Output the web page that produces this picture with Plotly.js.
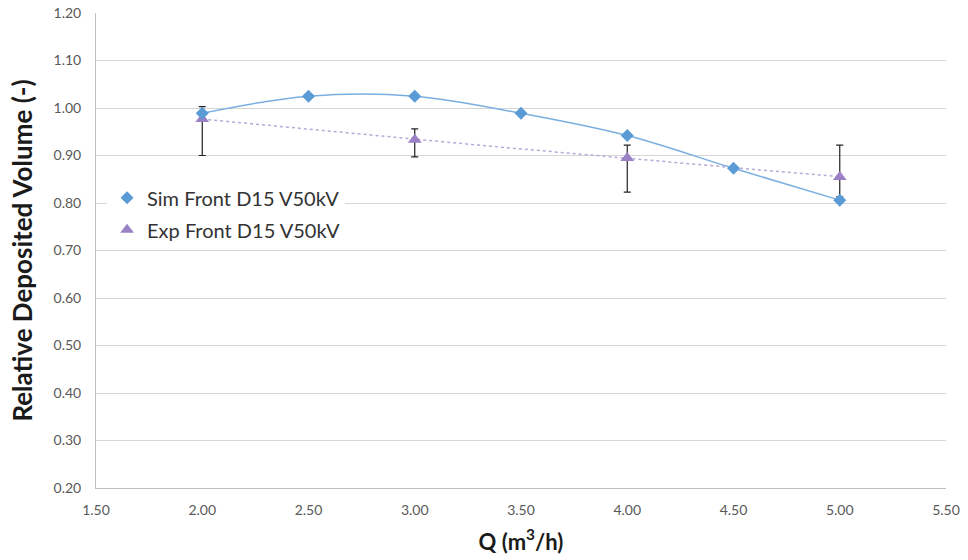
<!DOCTYPE html>
<html>
<head>
<meta charset="utf-8">
<script src="https://cdn.plot.ly/plotly-3.0.1.min.js"></script>
<style>html,body{margin:0;padding:0;background:#fff;}#chart{width:968px;height:560px;}</style>
</head>
<body>
<div id="chart"></div>
<script>
const flowQ = [2.0, 2.5, 3.0, 3.5, 4.0, 4.5, 5.0];
const simVolume = [0.989, 1.025, 1.025, 0.989, 0.942, 0.873, 0.806];

const expQ = [2.0, 3.0, 4.0, 5.0];
const expVolume = [0.977, 0.933, 0.895, 0.855];
const expErrPlus = [0.026, 0.023, 0.027, 0.067];
const expErrMinus = [0.077, 0.036, 0.072, 0.042];

const xTickVals = [1.5, 2.0, 2.5, 3.0, 3.5, 4.0, 4.5, 5.0, 5.5];
const yTickVals = [0.2, 0.3, 0.4, 0.5, 0.6, 0.7, 0.8, 0.9, 1.0, 1.1, 1.2];

const simName = 'Sim Front D15 V50kV';
const expName = 'Exp Front D15 V50kV';

// quadratic least-squares trendline for experimental data
function quadFit(xs, ys) {
  let S = [0,0,0,0,0], T = [0,0,0];
  for (let i = 0; i < xs.length; i++) {
    let p = 1;
    for (let k = 0; k < 5; k++) { S[k] += p; if (k < 3) T[k] += p * ys[i]; p *= xs[i]; }
  }
  const A = [[S[0],S[1],S[2],T[0]],[S[1],S[2],S[3],T[1]],[S[2],S[3],S[4],T[2]]];
  for (let c = 0; c < 3; c++) {
    for (let r = c + 1; r < 3; r++) {
      const f = A[r][c] / A[c][c];
      for (let k = c; k < 4; k++) A[r][k] -= f * A[c][k];
    }
  }
  const b = [0,0,0];
  for (let r = 2; r >= 0; r--) {
    let s = A[r][3];
    for (let k = r + 1; k < 3; k++) s -= A[r][k] * b[k];
    b[r] = s / A[r][r];
  }
  return x => b[0] + b[1] * x + b[2] * x * x;
}
const fit = quadFit(expQ, expVolume);
const trendX = [], trendY = [];
for (let i = 0; i <= 30; i++) {
  const x = expQ[0] + (expQ[expQ.length - 1] - expQ[0]) * i / 30;
  trendX.push(x); trendY.push(fit(x));
}

const font = "Lato, 'Open Sans', sans-serif";
const simMarker = {symbol: 'diamond', size: 10, color: '#5b9bd5'};
const expMarker = {symbol: 'triangle-up', size: 12, color: '#9a80c4'};

const traces = [
  {
    x: trendX, y: trendY, mode: 'lines', showlegend: false, hoverinfo: 'skip',
    line: {color: '#b9a8d8', width: 1.5, dash: 'dot'}
  },
  {
    x: expQ, y: expVolume, mode: 'markers', name: expName, showlegend: false,
    marker: expMarker,
    error_y: {type: 'data', symmetric: false, array: expErrPlus, arrayminus: expErrMinus,
              color: '#222', thickness: 1.2, width: 3.5}
  },
  {
    x: flowQ, y: simVolume, mode: 'lines+markers', name: simName, showlegend: false,
    line: {color: '#7aaee0', width: 1.5, shape: 'spline', smoothing: 1},
    marker: simMarker
  },
  // legend-only entries (marker symbol only, as in the reference legend)
  {x: [null], y: [null], mode: 'markers', name: simName, marker: simMarker, legendgroup: 'a'},
  {x: [null], y: [null], mode: 'markers', name: expName, marker: expMarker, legendgroup: 'b'}
];

const layout = {
  width: 968, height: 560,
  margin: {l: 96, r: 22, t: 13, b: 72},
  paper_bgcolor: '#fff', plot_bgcolor: '#fff',
  font: {family: font, color: '#595959', size: 14},
  showlegend: true,
  legend: {
    x: 0.013, y: 0.652, xanchor: 'left', yanchor: 'top',
    bgcolor: '#fff', font: {size: 20, color: '#333', family: font},
    traceorder: 'grouped', itemwidth: 30, tracegroupgap: 3
  },
  xaxis: {
    range: [1.5, 5.5], tickvals: xTickVals, ticktext: xTickVals.map(v => v.toFixed(2)),
    showgrid: false, zeroline: false, showline: true, linecolor: '#bfbfbf', linewidth: 1,
    ticks: 'outside', ticklen: 9, tickcolor: 'rgba(0,0,0,0)', tickfont: {size: 14, color: '#595959'},
    title: {text: 'Q (m<sup>3</sup>/h)', font: {size: 22, color: '#1a1a1a', family: font, weight: 'bold'}, standoff: 17}
  },
  yaxis: {
    range: [0.2, 1.2], tickvals: yTickVals, ticktext: yTickVals.map(v => v.toFixed(2)),
    showgrid: true, gridcolor: '#d6d6d6', gridwidth: 1, zeroline: false,
    showline: true, linecolor: '#bfbfbf', linewidth: 1,
    ticks: 'outside', ticklen: 11, tickcolor: 'rgba(0,0,0,0)', tickfont: {size: 14, color: '#595959'},
    title: {text: 'Relative Deposited Volume (-)', font: {size: 26, color: '#1a1a1a', family: font, weight: 'bold'}, standoff: 13}
  }
};

Plotly.newPlot('chart', traces, layout, {displayModeBar: false, staticPlot: true});
</script>
</body>
</html>
